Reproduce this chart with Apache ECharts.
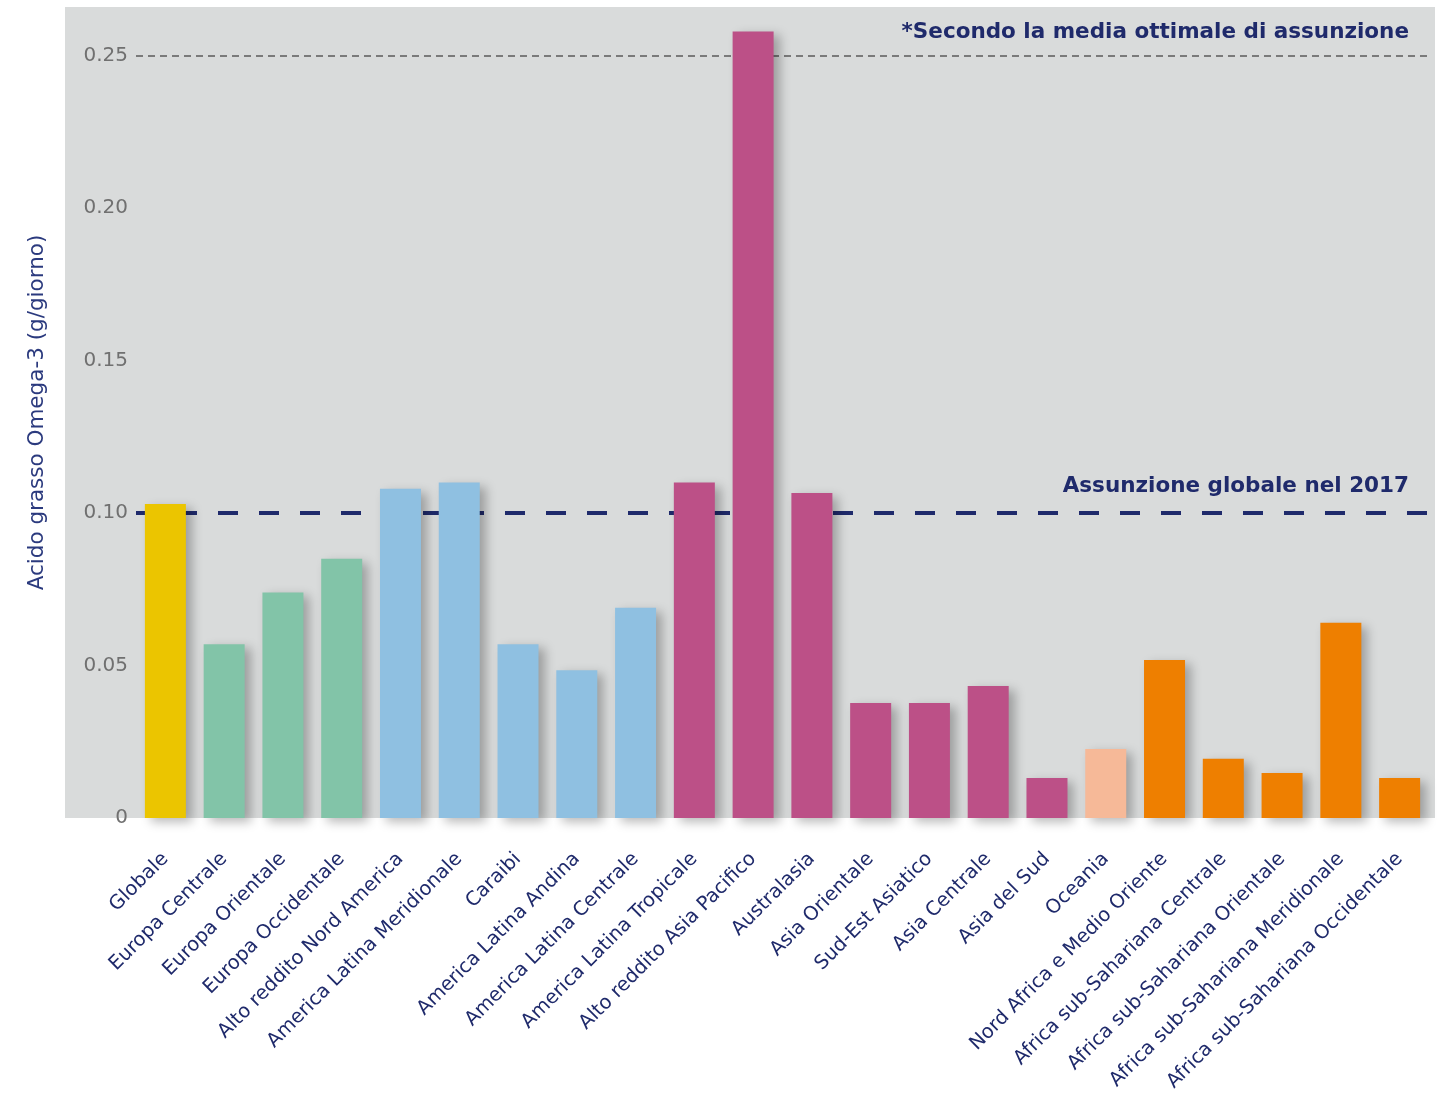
<!DOCTYPE html>
<html>
<head>
<meta charset="utf-8">
<title>Acido grasso Omega-3</title>
<script src="https://cdn.jsdelivr.net/npm/echarts@6/dist/echarts.min.js"></script>
<style>
  html, body { margin: 0; padding: 0; background: #fff; }
  #chart { width: 1452px; height: 1100px; }
</style>
</head>
<body>
<div id="chart"></div>
<script>
// dati
const categories = [
  'Globale', 'Europa Centrale', 'Europa Orientale', 'Europa Occidentale',
  'Alto reddito Nord America', 'America Latina Meridionale', 'Caraibi',
  'America Latina Andina', 'America Latina Centrale', 'America Latina Tropicale',
  'Alto reddito Asia Pacifico', 'Australasia', 'Asia Orientale', 'Sud-Est Asiatico',
  'Asia Centrale', 'Asia del Sud', 'Oceania', 'Nord Africa e Medio Oriente',
  'Africa sub-Sahariana Centrale', 'Africa sub-Sahariana Orientale',
  'Africa sub-Sahariana Meridionale', 'Africa sub-Sahariana Occidentale'
]
const omega3 = [
  0.103, 0.057, 0.074, 0.085, 0.108, 0.110, 0.057, 0.0485, 0.069, 0.110,
  0.258, 0.1066, 0.0377, 0.0377, 0.0433, 0.0131, 0.0226, 0.0518, 0.0194,
  0.0148, 0.064, 0.0131
]
const regionGroup = [
  'globale', 'europa', 'europa', 'europa', 'america', 'america', 'america',
  'america', 'america', 'asia', 'asia', 'asia', 'asia', 'asia', 'asia', 'asia',
  'oceania', 'africa', 'africa', 'africa', 'africa', 'africa'
]
const yTicks = [0, 0.05, 0.10, 0.15, 0.20, 0.25]
const globalIntake2017 = 0.10
const optimalIntake = 0.25

const groupColors = {
  globale: '#EBC500',
  europa: '#82C4A8',
  america: '#8FC0E1',
  asia: '#BC5087',
  oceania: '#F6B998',
  africa: '#EE7F00'
}
const navy = '#1F2A6B'
const font = 'DejaVu Sans'

const chart = echarts.init(document.getElementById('chart'))

const option = {
  animation: false,
  graphic: [{
    type: 'rect',
    z: -10,
    shape: { x: 65, y: 7, width: 1370, height: 811 },
    style: { fill: '#D9DBDB' }
  }],
  grid: { left: 136, right: 23, top: 7, bottom: 282 },
  xAxis: {
    type: 'category',
    data: categories,
    axisLine: { show: false },
    axisTick: { show: false },
    axisLabel: {
      interval: 0,
      rotate: 45,
      margin: 38,
      color: navy,
      fontFamily: font,
      fontSize: 19.5
    }
  },
  yAxis: {
    type: 'value',
    min: 0,
    max: 0.266,
    interval: 0.05,
    name: 'Acido grasso Omega-3 (g/giorno)',
    nameLocation: 'middle',
    nameGap: 88,
    nameTextStyle: { color: '#2B3A7E', fontFamily: font, fontSize: 21.5 },
    axisLine: { show: false },
    axisTick: { show: false },
    splitLine: { show: false },
    axisLabel: {
      showMaxLabel: false,
      margin: 8,
      color: '#707070',
      fontFamily: font,
      fontSize: 20,
      formatter: v => {
        const t = yTicks.find(x => Math.abs(x - v) < 1e-6)
        if (t === undefined) return ''
        return t === 0 ? '0' : t.toFixed(2)
      }
    }
  },
  series: [{
    type: 'bar',
    barWidth: 41,
    z: 2,
    data: omega3.map((v, i) => ({
      value: v,
      itemStyle: { color: groupColors[regionGroup[i]] }
    })),
    itemStyle: {
      shadowColor: 'rgba(0, 0, 0, 0.28)',
      shadowBlur: 10,
      shadowOffsetX: 6,
      shadowOffsetY: 4
    },
    markLine: {
      silent: true,
      z: 1,
      symbol: 'none',
      data: [
        {
          yAxis: optimalIntake,
          lineStyle: { color: '#7A7A7A', width: 2, type: [7, 5] },
          label: {
            show: true,
            position: 'insideEndTop',
            distance: [20, 12],
            formatter: '*Secondo la media ottimale di assunzione',
            color: navy,
            fontFamily: font,
            fontWeight: 'bold',
            fontSize: 21.5
          }
        },
        {
          yAxis: globalIntake2017,
          lineStyle: { color: navy, width: 4, type: [20, 21] },
          label: {
            show: true,
            position: 'insideEndTop',
            distance: [20, 16],
            formatter: 'Assunzione globale nel 2017',
            color: navy,
            fontFamily: font,
            fontWeight: 'bold',
            fontSize: 21.5
          }
        }
      ]
    }
  }]
}

chart.setOption(option)
</script>
</body>
</html>
